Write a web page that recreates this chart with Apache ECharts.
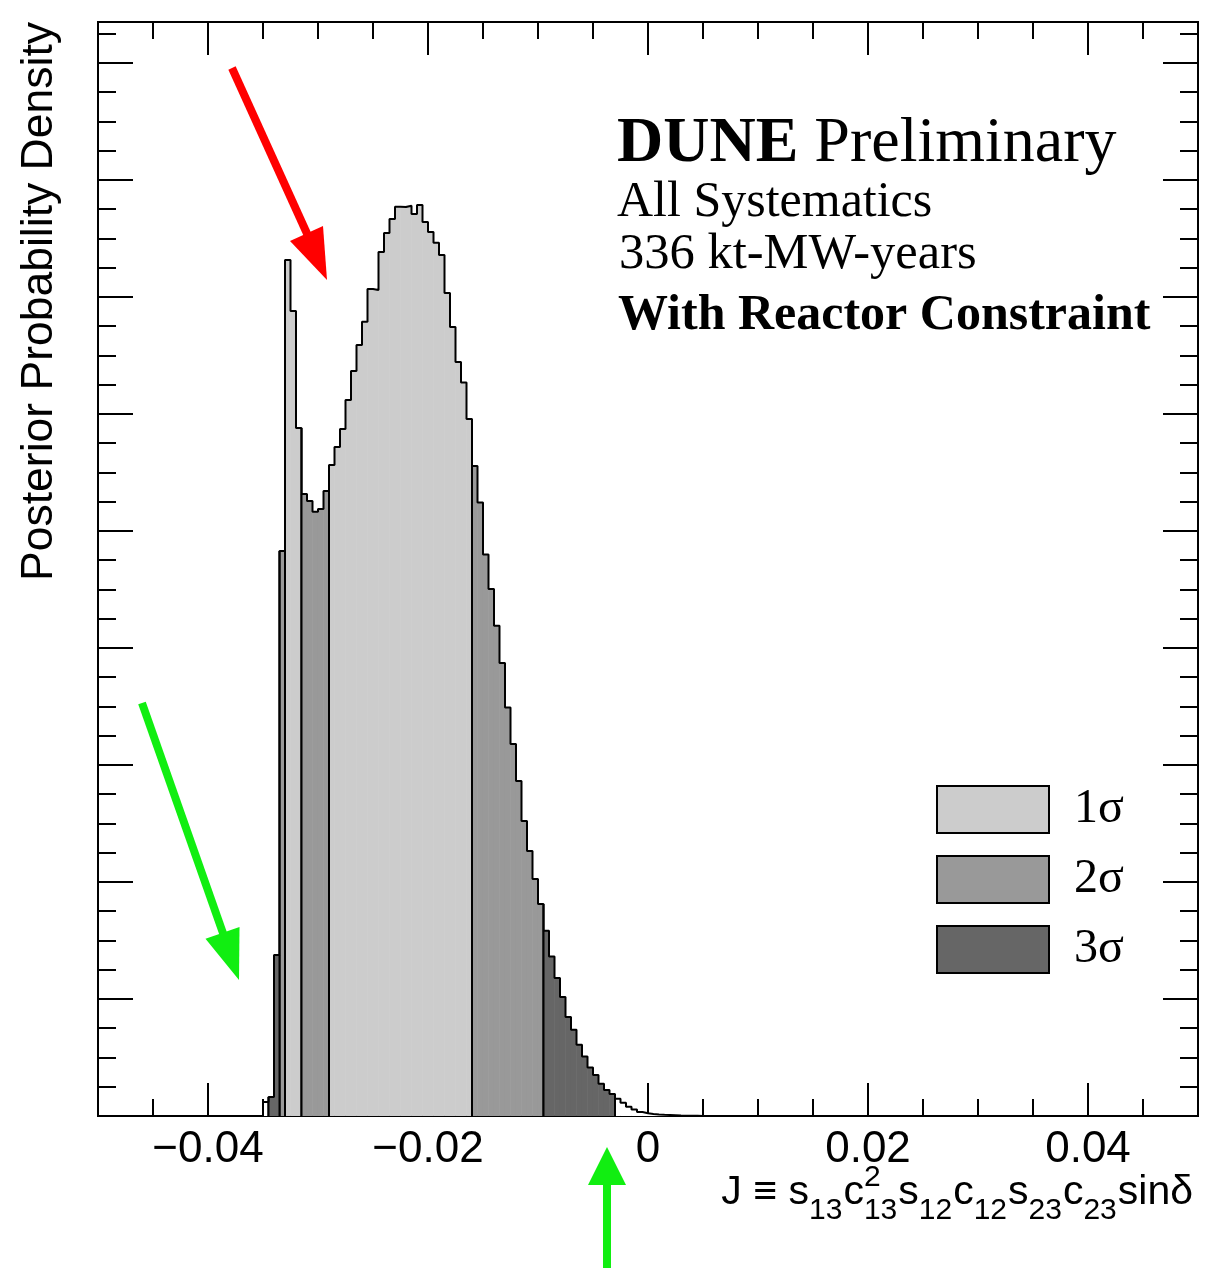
<!DOCTYPE html>
<html><head><meta charset="utf-8">
<script src="https://cdn.jsdelivr.net/npm/echarts@6/dist/echarts.min.js"></script>
<style>html,body{margin:0;padding:0;background:#fff}#c{width:1209px;height:1268px}</style>
</head><body><div id="c"></div>
<script>
// ---------------- data ----------------
const binStart = -0.035;          // left edge of first bin
const binWidth = 0.0005;          // bin width in J
// posterior density per bin (arbitrary units, 10 = one major y tick)
const density = [
  1.20, 1.62, 13.76, 48.29, 73.16, 68.80, 58.80, 53.16, 52.56, 51.65,
  51.88, 53.42, 55.64, 57.18, 58.72, 61.20, 63.68, 65.90, 67.89, 70.68,
  70.60, 73.85, 75.47, 76.67, 77.72, 77.69, 77.80, 77.09, 77.86, 76.41,
  75.56, 74.64, 73.59, 70.34, 67.44, 64.44, 62.68, 59.57, 55.56, 52.44,
  47.99, 45.04, 41.91, 38.72, 34.91, 31.79, 28.63, 25.21, 22.65, 20.26,
  18.12, 15.83, 13.63, 11.79, 10.17, 8.46, 7.38, 6.09, 5.09, 4.14,
  3.50, 2.75, 2.22, 1.88, 1.47, 1.13, 0.79, 0.56, 0.34, 0.24,
  0.18, 0.13, 0.10, 0.08, 0.06, 0.04, 0.03, 0.02, 0.015, 0.01
];
// credible region of each bin: 1 = 1σ, 2 = 2σ, 3 = 3σ, 0 = outside
const credibleRegion = [
  0, 3, 3, 2, 1, 1, 1, 2, 2, 2,
  2, 2, 1, 1, 1, 1, 1, 1, 1, 1,
  1, 1, 1, 1, 1, 1, 1, 1, 1, 1,
  1, 1, 1, 1, 1, 1, 1, 1, 2, 2,
  2, 2, 2, 2, 2, 2, 2, 2, 2, 2,
  2, 3, 3, 3, 3, 3, 3, 3, 3, 3,
  3, 3, 3, 3, 0, 0, 0, 0, 0, 0,
  0, 0, 0, 0, 0, 0, 0, 0, 0, 0
];
const regionNames = ['outside', '1σ', '2σ', '3σ'];
const regionColors = ['#ffffff', '#cccccc', '#999999', '#666666'];
const xRange = [-0.05, 0.05];
const yTop = 93.5;
const xMajorTicks = [-0.04, -0.02, 0, 0.02, 0.04];
const xMinorTicks = [-0.045, -0.04, -0.035, -0.03, -0.025, -0.02, -0.015, -0.01, -0.005, 0,
  0.005, 0.01, 0.015, 0.02, 0.025, 0.03, 0.035, 0.04, 0.045];
const yMajorTicks = [0, 10, 20, 30, 40, 50, 60, 70, 80, 90];
const yMinorTicks = [2.5, 5, 7.5, 12.5, 15, 17.5, 22.5, 25, 27.5, 32.5, 35, 37.5, 42.5, 45, 47.5,
  52.5, 55, 57.5, 62.5, 65, 67.5, 72.5, 75, 77.5, 82.5, 85, 87.5, 92.5];
const infoLines = ['All Systematics', '336 kt-MW-years', 'With Reactor Constraint'];

// ---------------- build ----------------
const chart = echarts.init(document.getElementById('c'), null, {renderer: 'canvas'});
const N = density.length;
const bins = density.map((h, i) => ({
  lo: binStart + i * binWidth, hi: binStart + (i + 1) * binWidth, h,
  r: credibleRegion[i],
  first: i === 0 || credibleRegion[i - 1] !== credibleRegion[i] ? 1 : 0,
  last: i === N - 1 || credibleRegion[i + 1] !== credibleRegion[i] ? 1 : 0
}));

function renderBin(color) {
  return function (params, api) {
    const lo = api.value(0), hi = api.value(1), h = api.value(2);
    const first = api.value(3), last = api.value(4);
    const p0 = api.coord([lo, 0]), p1 = api.coord([hi, h]);
    const children = [{
      type: 'rect',
      shape: {x: p0[0] - 0.3, y: p1[1], width: p1[0] - p0[0] + 0.6, height: p0[1] - p1[1]},
      style: {fill: color}
    }];
    const ls = {stroke: '#000', lineWidth: 2};
    if (first) children.push({type: 'line', shape: {x1: p0[0], y1: p0[1], x2: p0[0], y2: p1[1]}, style: ls});
    if (last) children.push({type: 'line', shape: {x1: p1[0], y1: p0[1], x2: p1[0], y2: p1[1]}, style: ls});
    return {type: 'group', children};
  };
}

const series = [0, 1, 2, 3].map(r => ({
  type: 'custom',
  name: regionNames[r],
  xAxisIndex: 0, yAxisIndex: 0,
  itemStyle: {color: regionColors[r]},
  renderItem: renderBin(regionColors[r]),
  encode: {x: [0, 1], y: 2},
  data: bins.filter(b => b.r === r).map(b => [b.lo, b.hi, b.h, b.first, b.last]),
  z: 2,
  silent: true
}));

const outline = [[binStart, 0]];
bins.forEach(b => outline.push([b.lo, b.h]));
outline.push([binStart + N * binWidth, 0]);
series.push({
  type: 'line', name: 'outline', step: 'end', data: outline,
  xAxisIndex: 0, yAxisIndex: 0,
  symbol: 'none', lineStyle: {color: '#000', width: 2}, z: 3, silent: true
});

const tickStyle = {color: '#000', width: 2};
function xAx(pos, ticks, len, labels) {
  return {
    type: 'value', min: xRange[0], max: xRange[1], position: pos,
    splitLine: {show: false}, axisLine: {show: false, onZero: false},
    axisTick: {show: true, inside: true, length: len, lineStyle: tickStyle, customValues: ticks},
    axisLabel: labels ? {
      show: true, customValues: ticks, margin: 12, color: '#000',
      fontFamily: 'Liberation Sans', fontSize: 44,
      formatter: v => { const r = Math.round(v * 100) / 100; return r === 0 ? '0' : (r < 0 ? '\u2212' : '') + Math.abs(r).toFixed(2); }
    } : {show: false}
  };
}
function yAx(pos, ticks, len) {
  return {
    type: 'value', min: 0, max: yTop, position: pos,
    splitLine: {show: false}, axisLine: {show: false, onZero: false},
    axisTick: {show: true, inside: true, length: len, lineStyle: tickStyle, customValues: ticks},
    axisLabel: {show: false}
  };
}

// text measuring for the composed x-axis title
const mctx = document.createElement('canvas').getContext('2d');
function tw(t, fs) { mctx.font = fs + 'px "Liberation Sans"'; return mctx.measureText(t).width; }
const mainFs = 41, subFs = 30;
const baseY = 1207, subY = 1221, supY = 1188;
const titleParts = [
  {t: 'J \u2261 '}, {t: 's'}, {sub: '13'}, {t: 'c'}, {sup: '2', sub: '13'}, {t: 's'}, {sub: '12'},
  {t: 'c'}, {sub: '12'}, {t: 's'}, {sub: '23'}, {t: 'c'}, {sub: '23'}, {t: 'sin\u03b4'}
];
let totalW = 0;
titleParts.forEach(p => { p.w = p.t ? tw(p.t, mainFs) : Math.max(tw(p.sub || '', subFs), tw(p.sup || '', subFs)) + 1; totalW += p.w; });
const titleEls = [];
let cx = 1193 - totalW;
titleParts.forEach(p => {
  if (p.t) titleEls.push({type: 'text', x: cx, y: baseY - 0.3465 * mainFs, style: {text: p.t, font: mainFs + 'px "Liberation Sans"', fill: '#000', verticalAlign: 'middle'}});
  if (p.sub) titleEls.push({type: 'text', x: cx, y: subY - 0.3465 * subFs, style: {text: p.sub, font: subFs + 'px "Liberation Sans"', fill: '#000', verticalAlign: 'middle'}});
  if (p.sup) titleEls.push({type: 'text', x: cx, y: supY - 0.3465 * subFs, style: {text: p.sup, font: subFs + 'px "Liberation Sans"', fill: '#000', verticalAlign: 'middle'}});
  cx += p.w;
});

const serif = '"Liberation Serif"';
const red = '#ff0000', green = '#11ee11';
const graphics = [
  {type: 'text', x: 62, y: 22, rotation: Math.PI / 2,
   style: {text: 'Posterior Probability Density', font: '44.5px "Liberation Sans"', fill: '#000', align: 'right', verticalAlign: 'bottom'}},
  {type: 'text', x: 617, y: 166 - 0.3375 * 64,
   style: {text: '{b|DUNE} {r|Preliminary}', fontFamily: 'Liberation Serif', fontSize: 64, fill: '#000', verticalAlign: 'middle',
     rich: {b: {fontFamily: 'Liberation Serif', fontSize: 64, fontWeight: 'bold', fill: '#000'},
            r: {fontFamily: 'Liberation Serif', fontSize: 64, fill: '#000'}}}},
  {type: 'text', x: 617, y: 220 - 0.3375 * 50, style: {text: infoLines[0], font: '50px ' + serif, fill: '#000', verticalAlign: 'middle'}},
  {type: 'text', x: 619, y: 272 - 0.3375 * 50, style: {text: infoLines[1], font: '50.5px ' + serif, fill: '#000', verticalAlign: 'middle'}},
  {type: 'text', x: 618, y: 333 - 0.3375 * 50, style: {text: infoLines[2], font: 'bold 50px ' + serif, fill: '#000', verticalAlign: 'middle'}},
  // red arrow
  {type: 'line', z: 100, shape: {x1: 232, y1: 68, x2: 309, y2: 238}, style: {stroke: red, lineWidth: 8}},
  {type: 'polygon', z: 100, shape: {points: [[327, 280], [290, 241], [323, 226]]}, style: {fill: red}},
  // green arrow (left)
  {type: 'line', z: 100, shape: {x1: 142, y1: 703, x2: 224, y2: 936}, style: {stroke: green, lineWidth: 8}},
  {type: 'polygon', z: 100, shape: {points: [[239, 980], [205.5, 938.8], [239.5, 926.9]]}, style: {fill: green}},
  // green arrow (bottom)
  {type: 'line', z: 100, shape: {x1: 607, y1: 1180, x2: 607, y2: 1268}, style: {stroke: green, lineWidth: 8}},
  {type: 'polygon', z: 100, shape: {points: [[607, 1147], [588, 1185], [626, 1185]]}, style: {fill: green}}
].concat(titleEls);

chart.setOption({
  animation: false,
  backgroundColor: '#fff',
  grid: {left: 98, right: 11, top: 22, bottom: 152, show: true, borderColor: '#000', borderWidth: 2,
         backgroundColor: 'transparent', containLabel: false, outerBoundsMode: 'none'},
  xAxis: [xAx('bottom', xMajorTicks, 33, true), xAx('bottom', xMinorTicks, 17, false),
          xAx('top', xMajorTicks, 33, false), xAx('top', xMinorTicks, 17, false)],
  yAxis: [yAx('left', yMajorTicks, 35), yAx('left', yMinorTicks, 18),
          yAx('right', yMajorTicks, 35), yAx('right', yMinorTicks, 18)],
  legend: {
    data: ['1σ', '2σ', '3σ'], orient: 'vertical', left: 936, top: 785, padding: 0,
    itemWidth: 112, itemHeight: 47, itemGap: 21, icon: 'rect', selectedMode: false,
    itemStyle: {borderColor: '#000', borderWidth: 2},
    textStyle: {fontFamily: 'Liberation Serif', fontSize: 48, color: '#000', padding: [0, 0, 0, 20]}
  },
  series,
  graphic: graphics
});
</script>
</body></html>
